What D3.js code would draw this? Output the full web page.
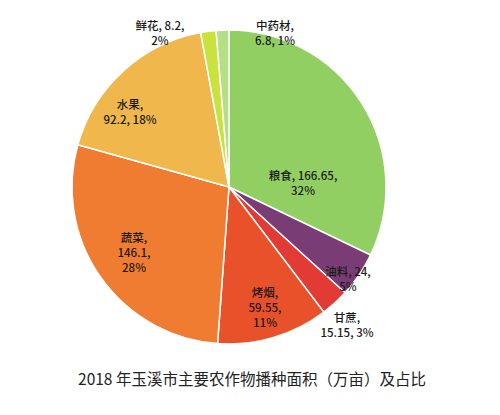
<!DOCTYPE html>
<html><head><meta charset="utf-8">
<script src="https://cdn.jsdelivr.net/npm/d3@7"></script>
<style>body{margin:0;background:#fff}</style></head>
<body><svg id="c" width="500" height="415"></svg>
<script>
const categories=["粮食","油料","甘蔗","烤烟","蔬菜","水果","鲜花","中药材"];
const values=[166.65,24,15.15,59.55,146.1,92.2,8.2,6.8];
const valueLabels=["166.65","24","15.15","59.55","146.1","92.2","8.2","6.8"];
const percents=["32%","5%","3%","11%","28%","18%","2%","1%"];
const colors=["#92cf63","#7a3c74","#e23a35","#e9512b","#f07c31","#f0b84c","#c9e23e","#b5df86"];
const labelLines=[["粮食, 166.65,","32%"],["油料, 24,","5%"],["甘蔗,","15.15, 3%"],["烤烟,","59.55,","11%"],["蔬菜,","146.1,","28%"],["水果,","92.2, 18%"],["鲜花, 8.2,","2%"],["中药材,","6.8, 1%"]];
const labelPos=[[303,180],[348,276],[347,322],[265,297],[134,242],[130,109],[160,30],[275,30]];
const svg=d3.select("#c");
const cx=229,cy=187,r=157;
const pie=d3.pie().sort(null).value(d=>d)(values);
const arc=d3.arc().innerRadius(0).outerRadius(r);
const g=svg.append("g").attr("transform",`translate(${cx},${cy})`);
g.selectAll("path").data(pie).join("path").attr("d",arc)
 .attr("fill",(d,i)=>colors[i]).attr("stroke","#fff").attr("stroke-width",1.5);
labelPos.forEach((p,i)=>{
  const t=svg.append("text").attr("text-anchor","middle").attr("font-family","Noto Sans CJK SC, sans-serif")
   .attr("font-size",11.5).attr("font-weight",500).attr("fill","#1a1a1a");
  labelLines[i].forEach((l,j)=>t.append("tspan").attr("x",p[0]).attr("y",p[1]+j*15).text(l));
});
svg.append("text").attr("x",252).attr("y",385).attr("text-anchor","middle")
 .attr("font-family","Noto Sans CJK SC, serif").attr("font-size",15.5).attr("fill","#222")
 .text("2018 年玉溪市主要农作物播种面积（万亩）及占比");
</script></body></html>
